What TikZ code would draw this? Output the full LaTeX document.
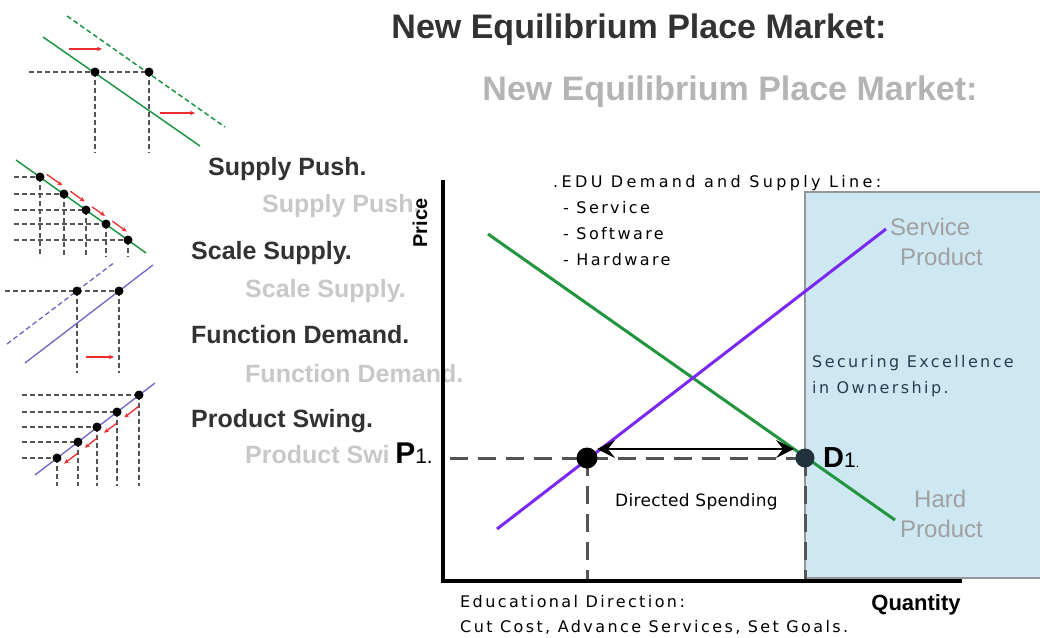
\documentclass[tikz,border=0pt]{standalone}
\usepackage{fontspec}
\setmainfont{Liberation Sans}
\newfontfamily\pixfont{DejaVu Sans}[LetterSpace=15]
\newfontfamily\widepix{DejaVu Sans}[LetterSpace=21]
\newfontfamily\plainpix{DejaVu Sans}[LetterSpace=2]
\usetikzlibrary{arrows.meta,calc}
\definecolor{demandgreen}{RGB}{34,150,62}
\definecolor{supplyviolet}{RGB}{124,40,245}
\definecolor{icongreen}{RGB}{30,150,70}
\definecolor{iconviolet}{RGB}{110,100,195}
\definecolor{shiftred}{RGB}{235,45,45}
\definecolor{boxblue}{RGB}{205,232,243}
\definecolor{boxedge}{RGB}{150,150,150}
\definecolor{darktext}{RGB}{50,50,50}
\definecolor{blurtext}{RGB}{200,200,200}
\definecolor{producttext}{RGB}{160,160,160}
\definecolor{slatetext}{RGB}{40,62,78}
\definecolor{guidegray}{RGB}{85,85,85}

\begin{document}
\begin{tikzpicture}[x=1pt, y=-1pt,
  shiftlabel/.style={font=\bfseries\fontsize{25}{25}\selectfont, text=darktext, anchor=base west, inner sep=0pt},
  blurlabel/.style={shiftlabel, text=blurtext},
  icondash/.style={draw=guidegray, line width=1.3pt, dash pattern=on 5pt off 3pt},
  shiftarrow/.style={draw=shiftred, line width=1.3pt, -{Stealth[length=5pt,width=4.5pt]}},
  guide/.style={draw=guidegray, line width=3pt, dash pattern=on 18pt off 10pt},
  axisline/.style={draw=black, line width=3.8pt},
  pixtext/.style={font=\pixfont\fontsize{16}{16}\selectfont, anchor=base west, inner sep=0pt},
  productlabel/.style={font=\fontsize{24}{24}\selectfont, text=producttext, anchor=base west, inner sep=0pt}
]
\useasboundingbox (0,0) rectangle (1040,637);

% titles
\node[font=\bfseries\fontsize{34}{34}\selectfont, text=darktext, anchor=base] (title) at (639,38) {New Equilibrium Place Market:};
\node[font=\bfseries\fontsize{34}{34}\selectfont, text=blurtext!90!black, anchor=base] (titleblur) at (730,100) {New Equilibrium Place Market:};

% icon 1: supply push
\draw[icondash] (29,72) -- (149,72);
\draw[icondash] (95,72) -- (95,153);
\draw[icondash] (149,72) -- (149,153);
\draw[icongreen, line width=1.5pt, dash pattern=on 5pt off 3pt] (67,16) -- (225,127);
\draw[icongreen, line width=1.5pt] (43,37) -- (200,146);
\fill (95,72) circle (4.5);
\fill (149,72) circle (4.5);
\draw[shiftarrow] (69,49) -- (102,49);
\draw[shiftarrow] (160,113) -- (195,113);

% icon 2: scale supply
\foreach \x/\y [count=\i] in {40/177, 64/194, 86/210, 106/224, 128/240} {
  \coordinate (s\i) at (\x,\y);
  \draw[icondash] (14,\y) -- (s\i);
  \draw[icondash] (s\i) -- (\x,257);
}
\draw[icongreen, line width=1.5pt] (16,160) -- (146,253);
\foreach \i in {1,...,5} \fill (s\i) circle (4.5);
\foreach \i/\j in {1/2,2/3,3/4,4/5}
  \draw[shiftarrow] ($(s\i)!0.2!(s\j)+(2,-6)$) -- ($(s\i)!0.85!(s\j)+(2,-6)$);

% icon 3: function demand
\draw[icondash] (5,291) -- (119,291);
\draw[icondash] (77,291) -- (77,373);
\draw[icondash] (119,291) -- (119,373);
\draw[iconviolet, line width=1.3pt, dash pattern=on 5pt off 3pt] (7,344) -- (115,262);
\draw[iconviolet, line width=1.3pt] (25,363) -- (153,265);
\fill (77,291) circle (4.5);
\fill (119,291) circle (4.5);
\draw[shiftarrow] (86,357) -- (114,357);

% icon 4: product swing
\foreach \x/\y [count=\i] in {57/458, 78/442, 97/427, 117/412, 139/395} {
  \coordinate (q\i) at (\x,\y);
  \draw[icondash] (22,\y) -- (q\i);
  \draw[icondash] (q\i) -- (\x,486);
}
\draw[iconviolet, line width=1.3pt] (35,475) -- (155,383);
\foreach \i in {1,...,5} \fill (q\i) circle (4.5);
\foreach \i/\j in {5/4,4/3,3/2,2/1}
  \draw[shiftarrow] ($(q\i)!0.2!(q\j)+(4,8)$) -- ($(q\i)!0.85!(q\j)+(4,8)$);

% icon labels
\node[blurlabel] (pushblur) at (262,212) {Supply Push.};
\node[blurlabel] (scaleblur) at (245,297) {Scale Supply.};
\node[blurlabel] (functionblur) at (245,382) {Function Demand.};
\begin{scope}
  \clip (230,430) rectangle (388,480);
  \node[blurlabel] (swingblur) at (245,463) {Product Swing.};
\end{scope}
\node[shiftlabel] (push) at (208,175) {Supply Push.};
\node[shiftlabel] (scale) at (191,259) {Scale Supply.};
\node[shiftlabel] (function) at (191,343) {Function Demand.};
\node[shiftlabel] (swing) at (191,427) {Product Swing.};

% ownership area
\fill[boxblue] (805,192) rectangle (1040,578);
\draw[boxedge, line width=1.5pt] (1041,192) -- (805,192) -- (805,578) -- (1041,578);

% equilibrium guides
\coordinate (origin) at (443,581);
\coordinate (ytop) at (443,180);
\coordinate (xend) at (962,581);
\coordinate (p1dot) at (587,458);
\coordinate (d1dot) at (805,458);
\draw[guide] (450,458) -- (d1dot);
\draw[guide] (p1dot) -- (587,579);
\draw[guide] (d1dot) -- (805,579);

% demand and supply lines
\coordinate (dtop) at (488,234);
\coordinate (dend) at (895,520);
\coordinate (sbot) at (497,529);
\coordinate (stop) at (886,229);
\draw[demandgreen, line width=3pt] (dtop) -- (dend);
\draw[supplyviolet, line width=3pt] (sbot) -- (stop);
\fill[black] (p1dot) circle (10.5);
\fill[slatetext!80!black] (d1dot) circle (9.5);

\coordinate (spendL) at (597,449);
\coordinate (spendR) at (794,449);
\draw[black, line width=2.5pt, {Stealth[length=18pt,width=18pt,inset=7pt]}-{Stealth[length=18pt,width=18pt,inset=7pt]}] (spendL) -- (spendR);

% axes
\draw[axisline] (ytop) -- ($(origin)+(0,2)$);
\draw[axisline] (origin) -- (xend);

% chart texts
\node[font=\bfseries\fontsize{20}{20}\selectfont, rotate=90, anchor=base] (price) at (427,223) {Price};
\node[font=\bfseries\fontsize{22}{22}\selectfont, anchor=base] (quantity) at (916,610) {Quantity};
\node[anchor=base east, inner sep=0pt] (p1) at (433,463) {\fontsize{30}{30}\selectfont\textbf{P}\fontsize{21}{21}\selectfont 1.};
\node[anchor=base west, inner sep=0pt] (d1) at (823,467) {\fontsize{29}{29}\selectfont\textbf{D}\fontsize{21}{21}\selectfont 1\fontsize{12}{12}\selectfont .};

\node[font=\widepix\fontsize{16}{16}\selectfont, anchor=base west, inner sep=0pt] (edu) at (553,187) {.EDU Demand and Supply Line:};
\node[pixtext] (service) at (563,213) {- Service};
\node[pixtext] (software) at (563,239) {- Software};
\node[pixtext] (hardware) at (563,265) {- Hardware};

\node[pixtext, text=slatetext] (own1) at (812,367) {Securing Excellence};
\node[pixtext, text=slatetext] (own2) at (812,393) {in Ownership.};

\node[productlabel] (serviceprod1) at (890,235) {Service};
\node[productlabel] (serviceprod2) at (900,265) {Product};
\node[productlabel] (hardprod1) at (914,507) {Hard};
\node[productlabel] (hardprod2) at (900,537) {Product};

\node[font=\plainpix\fontsize{17}{17}\selectfont, anchor=base west, inner sep=0pt] (spending) at (615,506) {Directed Spending};
\node[pixtext] (direction1) at (460,607) {Educational Direction:};
\node[pixtext] (direction2) at (460,632) {Cut Cost, Advance Services, Set Goals.};
\end{tikzpicture}
\end{document}
